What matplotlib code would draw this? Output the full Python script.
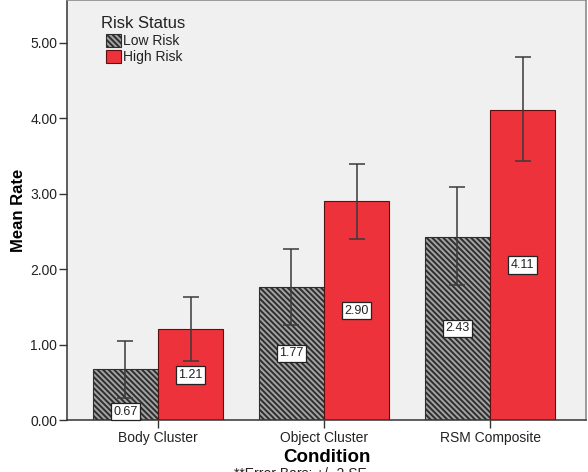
import matplotlib
matplotlib.use("Agg")
import matplotlib.pyplot as plt
import numpy as np

plt.rcParams['font.family'] = ['Liberation Sans', 'DejaVu Sans']
plt.rcParams['hatch.linewidth'] = 1.4
plt.rcParams['hatch.color'] = '#2b2b2b'

categories = ["Body Cluster", "Object Cluster", "RSM Composite"]
series_names = ["Low Risk", "High Risk"]
low_means = [0.67, 1.77, 2.43]
high_means = [1.21, 2.90, 4.11]
low_err_lo = [0.29, 1.26, 1.79]
low_err_hi = [1.05, 2.27, 3.09]
high_err_lo = [0.78, 2.40, 3.43]
high_err_hi = [1.63, 3.40, 4.81]
yticks = [0.0, 1.0, 2.0, 3.0, 4.0, 5.0]

fig = plt.figure(figsize=(5.88, 4.72), dpi=100)
fig.patch.set_facecolor('white')
ax = fig.add_axes([67/588, 52/472, (586-67)/588, 420/472])
ax.set_facecolor('#f0f0f0')

x = np.arange(len(categories))
w = 0.392
red = '#ee323b'

ax.bar(x - w/2, low_means, w, color='#a3a3a3', edgecolor='#2e2e2e',
       hatch='\\\\\\\\\\\\', linewidth=0.8, label=series_names[0], zorder=2)
ax.bar(x + w/2, high_means, w, color=red, edgecolor='#5a1010',
       linewidth=0.8, label=series_names[1], zorder=2)

for xs, m, lo, hi in [(x - w/2, low_means, low_err_lo, low_err_hi),
                      (x + w/2, high_means, high_err_lo, high_err_hi)]:
    m = np.array(m); lo = np.array(lo); hi = np.array(hi)
    yerr = np.vstack([m - lo, hi - m])
    ax.errorbar(xs, m, yerr=yerr, fmt='none', ecolor='#3a3a3a', elinewidth=1.1,
                capsize=6, capthick=1.1, zorder=3)

# value labels at mid-bar, moved below the error bar's lower end if they would collide
for xs, m, lo in [(x - w/2, low_means, low_err_lo), (x + w/2, high_means, high_err_lo)]:
    for xi, v, l in zip(xs, m, lo):
        ly = min(v / 2, l - 0.18)
        ax.text(xi, ly, f"{v:.2f}", ha='center', va='center', fontsize=9,
                color='#222222', zorder=4,
                bbox=dict(boxstyle='square,pad=0.22', facecolor='white',
                          edgecolor='#222222', linewidth=0.9))

ax.set_xlim(-0.548, 2.578)
ax.set_ylim(0, 5.57)
ax.set_yticks(yticks)
ax.set_yticklabels([f"{t:.2f}" for t in yticks], fontsize=10, color='#222222')
ax.set_xticks(x)
ax.set_xticklabels(categories, fontsize=10, color='#222222')
ax.tick_params(axis='both', direction='out', length=6, width=1, color='#333333')
ax.tick_params(axis='y', pad=1)
ax.tick_params(axis='x', pad=2)

for s in ['top', 'right']:
    ax.spines[s].set_color('#8c8c8c')
    ax.spines[s].set_linewidth(1.2)
for s in ['left', 'bottom']:
    ax.spines[s].set_color('#333333')
    ax.spines[s].set_linewidth(1.1)

ax.set_ylabel("Mean Rate", fontsize=12, fontweight='bold', labelpad=3,
              family=['Liberation Sans Narrow', 'Liberation Sans', 'DejaVu Sans'])
ax.set_xlabel("Condition", fontsize=13.5, fontweight='bold', labelpad=3)

# legend title drawn separately so the entries sit slightly indented, as in the reference
ax.text((101 - 67) / 519, 1 - 23 / 420, "Risk Status", transform=ax.transAxes,
        ha='left', va='center', fontsize=12, color='#222222')
leg = ax.legend(loc='upper left', bbox_to_anchor=((106 - 67) / 519, 1 - 34 / 420),
                frameon=False, fontsize=10,
                handlelength=1.05, handleheight=1.05, handletextpad=0.15,
                labelspacing=0.15, borderpad=0, borderaxespad=0)
for t in leg.get_texts():
    t.set_color('#222222')

fig.text(0.51, 5/472, "**Error Bars: +/- 2 SE", ha='center', va='top',
         fontsize=10, color='#222222')

fig.savefig("out.png", dpi=100, facecolor='white')
